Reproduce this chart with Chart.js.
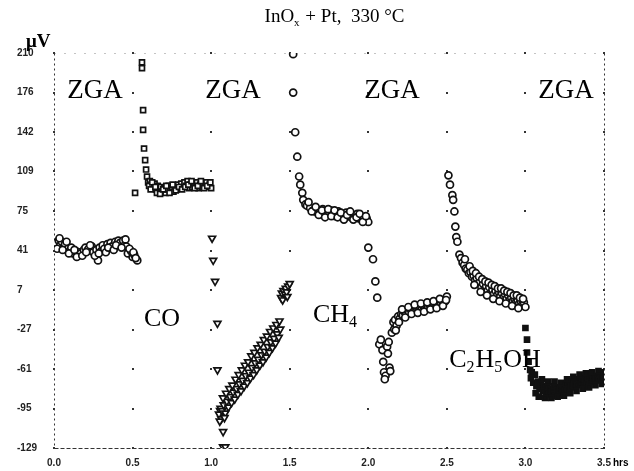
<!DOCTYPE html>
<html>
<head>
<meta charset="utf-8">
<script src="https://cdn.jsdelivr.net/npm/chart.js@4.4.0/dist/chart.umd.min.js"></script>
<style>
  body { margin: 0; background: #fff; }
  canvas { display: block; }
</style>
</head>
<body>
<canvas id="myChart" width="634" height="471"></canvas>
<script>
// axis ticks
const xTicks = [0, 0.5, 1.0, 1.5, 2.0, 2.5, 3.0, 3.5]
const yTicks = [210, 176.1, 142.2, 108.3, 74.4, 40.5, 6.6, -27.3, -61.2, -95.1, -129]
const yLabels = ['210', '176', '142', '109', '75', '41', '7', '-27', '-61', '-95', '-129']

// [hrs, µV]
const zga1 = [[0.00,44],[0.01,47],[0.03,49],[0.04,45],[0.05,48],[0.06,43],[0.07,46],[0.09,42],[0.10,40],[0.11,43],
  [0.12,38],[0.14,40],[0.15,37],[0.16,39],[0.17,38],[0.19,41],[0.20,43],[0.21,40],[0.22,42],[0.24,44],[0.25,39],
  [0.28,32],[0.27,41],[0.29,43],[0.30,40],[0.31,45],[0.32,42],[0.34,46],[0.35,43],[0.36,47],[0.37,44],[0.39,48],
  [0.40,46],[0.41,49],[0.42,47],[0.44,49],[0.45,45],[0.46,44],[0.47,38],[0.49,40],[0.50,35],[0.51,37],[0.53,32],
  [0.02,42],[0.035,51],[0.055,41],[0.08,48],[0.095,38],[0.13,41],[0.145,35],[0.18,36],[0.205,39],[0.23,45],
  [0.26,36],[0.285,38],[0.33,39],[0.345,43],[0.38,41],[0.395,45],[0.43,43],[0.455,50],[0.48,42],[0.505,39],[0.52,34]]

const co = [[0.516,90],[0.56,202],[0.56,197],[0.567,161],[0.567,144],[0.573,128],[0.58,118],[0.586,110],[0.592,104],
  [0.599,99],[0.61,100],[0.62,97],[0.63,95],[0.64,98],[0.65,93],[0.66,96],[0.67,92],[0.68,95],[0.69,91],[0.70,94],
  [0.71,90],[0.72,93],[0.73,96],[0.74,92],[0.75,94],[0.76,91],[0.77,95],[0.78,93],[0.79,97],[0.80,94],[0.81,98],
  [0.82,95],[0.83,99],[0.84,96],[0.85,100],[0.86,94],[0.87,97],[0.88,95],[0.89,98],[0.90,96],[0.91,99],[0.92,94],
  [0.93,97],[0.94,95],[0.95,98],[0.96,96],[0.97,99],[0.98,95],[0.99,97],[1.00,94],
  [0.605,96],[0.615,93],[0.625,99],[0.645,95],[0.655,90],[0.675,89],[0.695,93],[0.715,96],[0.735,90],[0.755,97],
  [0.775,92],[0.795,95],[0.815,93],[0.835,95],[0.855,97],[0.875,100],[0.895,94],[0.915,96],[0.935,100],[0.955,94],
  [0.975,96],[0.995,99]]

const zga2 = [[1.006,51],[1.013,32],[1.025,14],[1.04,-22],[1.04,-62],[1.057,-97],[1.076,-115],[1.076,-128],[1.09,-128],
  [1.05,-100],[1.06,-95],[1.065,-104],[1.07,-97],[1.08,-92],[1.09,-99],[1.10,-89],[1.11,-94],[1.12,-85],[1.13,-90],
  [1.14,-81],[1.15,-87],[1.16,-78],[1.17,-83],[1.18,-74],[1.19,-80],[1.20,-71],[1.21,-76],[1.22,-67],[1.23,-73],
  [1.24,-64],[1.25,-69],[1.26,-60],[1.27,-66],[1.28,-56],[1.29,-62],[1.30,-53],[1.31,-58],[1.32,-49],[1.33,-55],
  [1.34,-46],[1.35,-51],[1.36,-42],[1.37,-47],[1.38,-38],[1.39,-43],[1.40,-35],[1.41,-39],[1.42,-31],[1.43,-34],
  [1.44,-27],[1.445,0],[1.45,4],[1.455,-2],[1.46,6],[1.47,3],[1.475,8],[1.48,5],[1.485,1],[1.49,10],[1.50,12],
  [1.075,-86],[1.095,-82],[1.115,-78],[1.135,-75],[1.155,-70],[1.175,-66],[1.195,-62],[1.215,-58],[1.235,-55],
  [1.255,-50],[1.275,-47],[1.295,-43],[1.315,-40],[1.335,-36],[1.355,-33],[1.375,-29],[1.395,-26],[1.415,-23],
  [1.435,-20],[1.055,-106],[1.085,-103]]

const ch4 = [[1.522,209],[1.522,176],[1.535,142],[1.548,121],[1.56,104],[1.567,97],[1.58,90],[1.586,84],[1.60,80],
  [1.61,79],[1.63,77],[1.65,75],[1.66,74],[1.67,76],[1.68,73],[1.69,75],[1.70,72],[1.71,76],[1.72,73],[1.73,71],
  [1.74,74],[1.75,72],[1.76,75],[1.77,71],[1.78,73],[1.79,70],[1.80,72],[1.81,74],[1.82,70],[1.83,72],[1.84,69],
  [1.85,71],[1.86,73],[1.87,70],[1.88,72],[1.89,69],[1.90,71],[1.91,68],[1.92,70],[1.93,72],[1.94,68],[1.95,70],
  [1.96,67],[1.97,69],[1.98,66],[1.99,68],[2.00,65],
  [1.62,82],[1.64,74],[1.665,78],[1.685,71],[1.705,75],[1.725,69],[1.745,76],[1.765,70],[1.785,75],[1.805,69],
  [1.825,73],[1.845,67],[1.865,71],[1.885,74],[1.905,67],[1.925,69],[1.945,72],[1.965,65],[1.985,70]]

const zga3 = [[2.00,43],[2.03,33],[2.045,14],[2.057,0],[2.07,-40],[2.08,-36],[2.09,-45],[2.10,-64],[2.11,-67],
  [2.12,-42],[2.125,-48],[2.135,-60],[2.14,-63],[2.15,-30],[2.16,-21],[2.165,-27],[2.17,-19],[2.18,-24],[2.19,-16],
  [2.20,-18],[2.21,-14],[2.22,-15],[2.23,-12],[2.24,-14],[2.25,-11],[2.26,-13],[2.27,-10],[2.28,-12],[2.29,-9],
  [2.30,-11],[2.31,-9],[2.32,-10],[2.33,-8],[2.34,-10],[2.35,-7],[2.36,-9],[2.37,-7],[2.38,-8],[2.39,-6],[2.40,-8],
  [2.41,-5],[2.42,-7],[2.43,-5],[2.44,-6],[2.45,-4],[2.46,-5],[2.47,-3],[2.48,-4],[2.49,-3],[2.50,1],
  [2.095,-55],[2.105,-70],[2.13,-38],[2.175,-28],[2.195,-21],[2.215,-10],[2.235,-17],[2.255,-8],[2.275,-14],
  [2.295,-6],[2.315,-13],[2.335,-5],[2.355,-12],[2.375,-4],[2.395,-10],[2.415,-3],[2.435,-9],[2.455,-1],
  [2.475,-7],[2.495,-2]]

const etoh = [[2.51,105],[2.52,97],[2.535,88],[2.54,84],[2.548,74],[2.554,61],[2.56,52],[2.567,48],[2.58,37],
  [2.59,34],[2.60,30],[2.61,28],[2.62,25],[2.63,24],[2.64,21],[2.65,22],[2.66,18],[2.67,19],[2.68,15],[2.69,17],
  [2.70,12],[2.71,14],[2.72,9],[2.73,12],[2.74,7],[2.75,10],[2.76,6],[2.77,9],[2.78,4],[2.79,7],[2.80,3],[2.81,6],
  [2.82,2],[2.83,5],[2.84,1],[2.85,4],[2.86,0],[2.87,3],[2.88,-1],[2.89,2],[2.90,-2],[2.91,0],[2.92,-3],[2.93,-1],
  [2.94,-4],[2.95,-2],[2.96,-5],[2.97,-3],[2.98,-6],[2.99,-4],[3.00,-8],
  [2.615,33],[2.645,27],[2.665,23],[2.685,21],[2.705,18],[2.725,16],[2.745,14],[2.765,13],[2.785,11],[2.805,10],
  [2.825,8],[2.845,8],[2.865,6],[2.885,5],[2.905,4],[2.925,2],[2.945,2],[2.965,0],[2.985,-1],[2.675,11],
  [2.715,5],[2.755,2],[2.795,-1],[2.835,-3],[2.875,-5],[2.915,-7],[2.955,-9]]

const zga4 = [[3.00,-26],[3.01,-36],[3.01,-47],[3.02,-55],[3.03,-62],[3.04,-64],[3.05,-73],[3.06,-66],[3.07,-76],
  [3.08,-72],[3.09,-78],[3.10,-74],[3.11,-80],[3.12,-76],[3.13,-82],[3.14,-77],[3.15,-83],[3.16,-78],[3.17,-81],
  [3.18,-76],[3.19,-84],[3.20,-79],[3.21,-82],[3.22,-77],[3.23,-80],[3.24,-75],[3.25,-79],[3.26,-74],[3.27,-78],
  [3.28,-73],[3.29,-77],[3.30,-72],[3.31,-76],[3.32,-71],[3.33,-75],[3.34,-70],[3.35,-74],[3.36,-69],[3.37,-73],
  [3.38,-70],[3.39,-74],[3.40,-69],[3.41,-72],[3.42,-68],[3.43,-71],[3.44,-67],[3.45,-70],[3.46,-68],[3.47,-71],
  [3.48,-67],[3.49,-70],[3.50,-68],
  [3.035,-69],[3.065,-82],[3.085,-85],[3.105,-70],[3.125,-86],[3.145,-72],[3.165,-86],[3.185,-72],[3.205,-85],
  [3.225,-73],[3.245,-84],[3.265,-70],[3.285,-82],[3.305,-68],[3.325,-80],[3.345,-66],[3.365,-78],[3.385,-65],
  [3.405,-77],[3.425,-64],[3.445,-75],[3.465,-63],[3.485,-74],[3.50,-64]]

const toXY = arr => arr.map(p => ({x: p[0], y: p[1]}))

function series(arr, style, radius, fill, rot) {
  return {
    data: toXY(arr),
    pointStyle: style,
    pointRadius: radius,
    pointRotation: rot || 0,
    pointBackgroundColor: fill,
    pointBorderColor: '#111',
    pointBorderWidth: 1.7,
    showLine: false
  }
}

// draws sub-scripted chemistry text centred on cx
function chem(ctx, parts, cx, base, size) {
  const big = size + 'px "Liberation Serif"'
  const small = Math.round(size * 0.6) + 'px "Liberation Serif"'
  let w = 0
  parts.forEach(p => { ctx.font = p[1] ? small : big; w += ctx.measureText(p[0]).width })
  let x = cx - w / 2
  parts.forEach(p => {
    ctx.font = p[1] ? small : big
    ctx.fillText(p[0], x, p[1] ? base + size * 0.2 : base)
    x += ctx.measureText(p[0]).width + (p[1] ? 1 : 0)
  })
}

const decor = {
  id: 'decor',
  beforeDatasetsDraw(chart) {
    const {ctx, chartArea: a, scales} = chart
    const L = Math.round(a.left) + 0.5, R = Math.round(a.right) + 0.5
    const T = Math.round(a.top) + 0.5, B = Math.round(a.bottom) + 0.5
    ctx.save()
    ctx.strokeStyle = '#333'
    ctx.lineWidth = 1
    ctx.setLineDash([2, 3])
    ctx.beginPath(); ctx.moveTo(L, T); ctx.lineTo(L, B); ctx.stroke()
    ctx.beginPath(); ctx.moveTo(R, T); ctx.lineTo(R, B); ctx.stroke()
    ctx.setLineDash([4, 2])
    ctx.beginPath(); ctx.moveTo(L, B); ctx.lineTo(R, B); ctx.stroke()
    ctx.strokeStyle = '#888'
    ctx.setLineDash([1, 9])
    ctx.beginPath(); ctx.moveTo(L, T); ctx.lineTo(R, T); ctx.stroke()
    // grid dots at tick crossings
    ctx.fillStyle = '#333'
    xTicks.forEach(t => {
      const px = Math.round(scales.x.getPixelForValue(t))
      yTicks.forEach(v => {
        const py = Math.round(scales.y.getPixelForValue(v))
        ctx.fillRect(px - 1, py - 1, 2, 2)
      })
    })
    ctx.restore()
  },
  afterDraw(chart) {
    const ctx = chart.ctx
    ctx.save()
    ctx.fillStyle = '#000'
    ctx.textBaseline = 'alphabetic'
    ctx.textAlign = 'left'
    chem(ctx, [['InO', 0], ['x', 1], [' + Pt,  330 °C', 0]], 334, 22, 19)
    ctx.font = 'bold 19px "Liberation Serif"'
    ctx.fillText('μV', 26, 47)
    ;[95, 233, 392, 566].forEach(cx => chem(ctx, [['ZGA', 0]], cx, 98, 27))
    chem(ctx, [['CO', 0]], 162, 326, 26)
    chem(ctx, [['CH', 0], ['4', 1]], 335, 322, 26)
    chem(ctx, [['C', 0], ['2', 1], ['H', 0], ['5', 1], ['OH', 0]], 494, 367, 26)
    ctx.font = 'bold 10px "Liberation Sans"'
    ctx.fillText('hrs', 613, 466)
    ctx.restore()
  }
}

const chart = new Chart(document.querySelector('#myChart'), {
  type: 'scatter',
  data: {
    datasets: [
      series(zga1, 'circle', 3.5, '#fff'),
      series(co, 'rect', 3.5, '#fff'),
      series(zga2, 'triangle', 4, '#fff', 180),
      series(ch4, 'circle', 3.5, '#fff'),
      series(zga3, 'circle', 3.5, '#fff'),
      series(etoh, 'circle', 3.5, '#fff'),
      series(zga4, 'rect', 3.5, '#111')
    ]
  },
  options: {
    responsive: false,
    animation: false,
    layout: { padding: { left: 17, right: 30, top: 53, bottom: 0 } },
    plugins: { legend: { display: false }, tooltip: { enabled: false } },
    scales: {
      x: {
        type: 'linear',
        min: 0,
        max: 3.5,
        afterBuildTicks: s => { s.ticks = xTicks.map(v => ({value: v})) },
        afterFit: s => { s.height = 23 },
        grid: { display: false, drawTicks: false },
        border: { display: false },
        ticks: {
          padding: 9,
          color: '#222',
          font: { family: 'Liberation Sans', size: 10, weight: 'bold' },
          callback: v => v.toFixed(1)
        }
      },
      y: {
        type: 'linear',
        min: -129,
        max: 210,
        afterBuildTicks: s => { s.ticks = yTicks.map(v => ({value: v})) },
        afterFit: s => { s.width = 37 },
        grid: { display: false, drawTicks: false },
        border: { display: false },
        ticks: {
          crossAlign: 'far',
          color: '#222',
          font: { family: 'Liberation Sans', size: 10, weight: 'bold' },
          callback: (v, i) => yLabels[i]
        }
      }
    }
  },
  plugins: [decor]
})
</script>
</body>
</html>
